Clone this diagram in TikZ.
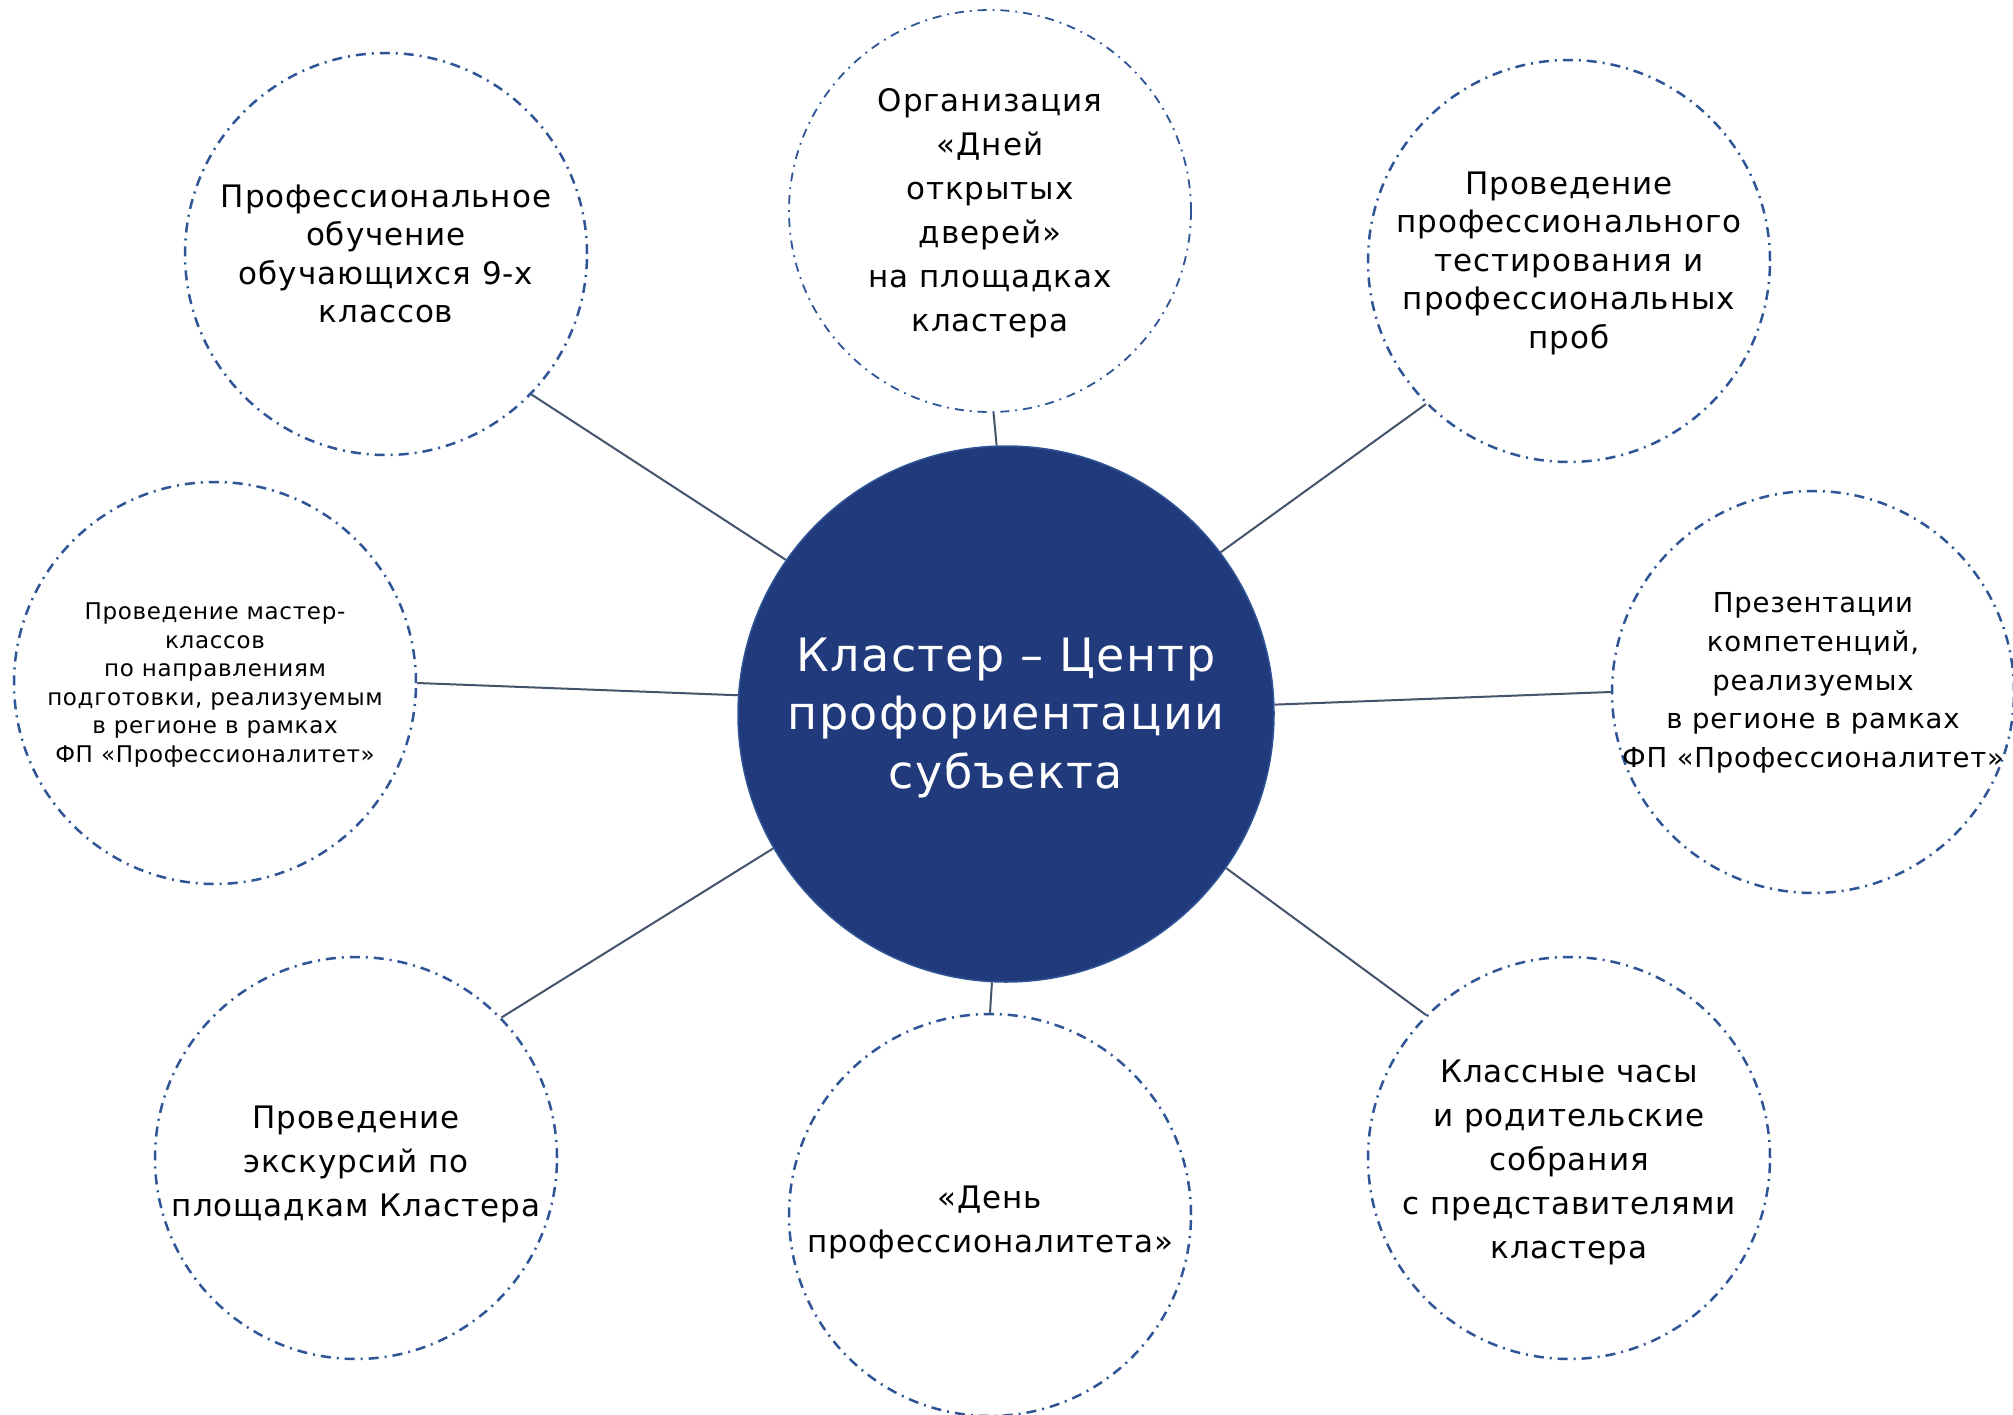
\documentclass[tikz,border=0pt]{standalone}
\usepackage{fontspec}
\setmainfont[LetterSpace=3]{DejaVu Sans}
\definecolor{ringblue}{HTML}{2F5597}
\definecolor{hubblue}{HTML}{213A7B}
\definecolor{hubedge}{HTML}{2F5597}
\definecolor{linkgray}{HTML}{44546A}
\begin{document}
\begin{tikzpicture}[x=1pt,y=-1pt,
  item/.style={circle, draw=ringblue, line width=2.5pt,
    dash pattern=on 10pt off 6pt on 2pt off 6pt,
    minimum size=402pt, inner sep=0pt},
  txt/.style={align=center, text=black, inner sep=0pt,
    font=\fontsize{31}{38.5}\selectfont},
  wide/.style={font=\fontsize{31}{44}\selectfont},
  small/.style={font=\fontsize{23}{28.5}\selectfont},
  mid/.style={font=\fontsize{27.5}{38.8}\selectfont},
  hub/.style={circle, fill=hubblue, draw=hubedge, line width=1.5pt,
    minimum size=536pt, inner sep=0pt, align=center, text=white,
    font=\fontsize{46}{58.5}\selectfont},
  link/.style={draw=linkgray, line width=2pt}]
\useasboundingbox (0,0) rectangle (2013,1415);
\fill[white] (0,0) rectangle (2013,1415);

\node[hub] (c) at (1006,714) {};
\node[align=center, text=white, inner sep=0pt, font=\fontsize{46}{58.5}\selectfont] (ct) at (1006,718) {Кластер – Центр\\профориентации\\субъекта};

\node[item] (tl) at (386,254) {};
\node[item, line width=1.8pt, dash pattern=on 9pt off 6pt on 1.8pt off 6pt] (t) at (990,211) {};
\node[item] (tr) at (1569,261) {};
\node[item] (r) at (1813,692) {};
\node[item] (br) at (1569,1158) {};
\node[item] (b) at (990,1215) {};
\node[item] (bl) at (356,1158) {};
\node[item] (l) at (215,683) {};

\node[txt] (tlt) at (386,254) {Профессиональное\\обучение\\обучающихся 9-х\\классов};
\node[txt, wide] (tt) at (990,213) {Организация\\«Дней\\открытых\\дверей»\\на площадках\\кластера};
\node[txt] (trt) at (1569,263) {Проведение\\профессионального\\тестирования и\\профессиональных\\проб};
\node[txt, mid] (rt) at (1813,683) {Презентации\\компетенций,\\реализуемых\\в регионе в рамках\\ФП «Профессионалитет»};
\node[txt, wide] (brt) at (1569,1162) {Классные часы\\и родительские\\собрания\\с представителями\\кластера};
\node[txt, wide] (bt) at (990,1222) {«День\\профессионалитета»};
\node[txt, wide] (blt) at (356,1164) {Проведение\\экскурсий по\\площадкам Кластера};
\node[txt, small] (lt) at (215,685) {Проведение мастер-\\классов\\по направлениям\\подготовки, реализуемым\\в регионе в рамках\\ФП «Профессионалитет»};

\draw[link] (tl.-44.6) -- (c.145.7);
\draw[link] (t.-89.4) -- (c.92.6);
\draw[link] (tr.225.4) -- (c.37.1);
\draw[link] (l.0) -- (c.176.4);
\draw[link] (r.180) -- (c.2.8);
\draw[link] (bl.44.4) -- (c.210.4);
\draw[link] (b.90) -- (c.267);
\draw[link] (br.135.2) -- (c.-35.3);
\end{tikzpicture}
\end{document}
